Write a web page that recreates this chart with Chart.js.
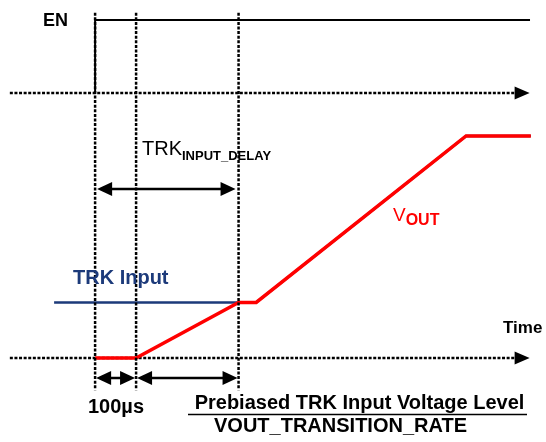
<!DOCTYPE html>
<html>
<head>
<meta charset="utf-8">
<script src="https://cdn.jsdelivr.net/npm/chart.js@4"></script>
<style>
html, body { margin: 0; padding: 0; background: #fff; }
#timing { display: block; }
</style>
</head>
<body>
<canvas id="timing" width="546" height="442"></canvas>
<script>
// time in µs from EN rising; VOUT / TRK as fraction of final level; EN as logic 0/1
const enTime = [0, 0, 1061];
const enLevel = [0, 1, 1];
const trkTime = [-100, 393, 905, 1063];
const trkLevel = [0.25, 0.25, 1, 1];
const voutTime = [0, 100, 350, 393, 905, 1063];
const voutLevel = [0, 0, 0.25, 0.25, 1, 1];
const markerTimes = [0, 100, 350]; // EN rise, 100µs delay, TRK_INPUT_DELAY end
const axisStart = -208, axisEnd = 1060;

const NAVY = "#1c3a7a";
const RED = "#ff0000";
const FONT = "'Liberation Sans', Arial, sans-serif";
const DOTS = [3, 1.6];

function toPoints(xs, ys) {
  return xs.map((t, i) => ({ x: t, y: ys[i] }));
}

function arrowHead(ctx, tipX, tipY, dir, len, half) {
  ctx.beginPath();
  ctx.moveTo(tipX, tipY);
  ctx.lineTo(tipX - dir * len, tipY - half);
  ctx.lineTo(tipX - dir * len, tipY + half);
  ctx.closePath();
  ctx.fill();
}

function doubleArrow(ctx, x0, x1, yy) {
  ctx.save();
  ctx.strokeStyle = "#000";
  ctx.fillStyle = "#000";
  ctx.lineWidth = 2.5;
  ctx.beginPath();
  ctx.moveTo(x0 + 8, yy);
  ctx.lineTo(x1 - 8, yy);
  ctx.stroke();
  arrowHead(ctx, x0, yy, -1, 15, 7);
  arrowHead(ctx, x1, yy, 1, 15, 7);
  ctx.restore();
}

function dashedAxis(ctx, x0, x1, yy) {
  ctx.save();
  ctx.strokeStyle = "#000";
  ctx.fillStyle = "#000";
  ctx.lineWidth = 2.5;
  ctx.setLineDash(DOTS);
  ctx.beginPath();
  ctx.moveTo(x0, yy);
  ctx.lineTo(x1 - 12, yy);
  ctx.stroke();
  ctx.setLineDash([]);
  arrowHead(ctx, x1, yy, 1, 15, 6.5);
  ctx.restore();
}

function subText(ctx, x, yy, main, mainFont, sub, subFont, drop, color) {
  ctx.fillStyle = color;
  ctx.textAlign = "left";
  ctx.font = mainFont;
  ctx.fillText(main, x, yy);
  const w = ctx.measureText(main).width;
  ctx.font = subFont;
  ctx.fillText(sub, x + w, yy + drop);
}

const diagram = {
  id: "diagram",
  beforeDatasetsDraw(chart) {
    const { ctx, scales: { x, y, yEN } } = chart;
    dashedAxis(ctx, x.getPixelForValue(axisStart), x.getPixelForValue(axisEnd), yEN.getPixelForValue(0));
    dashedAxis(ctx, x.getPixelForValue(axisStart), x.getPixelForValue(axisEnd), y.getPixelForValue(0));
  },
  afterDatasetsDraw(chart) {
    const { ctx, scales: { x, y, yEN } } = chart;
    const top = yEN.getPixelForValue(1.1);
    const bottom = y.getPixelForValue(-0.145);

    ctx.save();
    ctx.strokeStyle = "#000";
    ctx.lineWidth = 2.5;
    ctx.setLineDash(DOTS);
    markerTimes.forEach(t => {
      const px = x.getPixelForValue(t);
      ctx.beginPath();
      ctx.moveTo(px, top);
      ctx.lineTo(px, bottom);
      ctx.stroke();
    });
    ctx.restore();

    const m0 = x.getPixelForValue(markerTimes[0]);
    const m1 = x.getPixelForValue(markerTimes[1]);
    const m2 = x.getPixelForValue(markerTimes[2]);
    doubleArrow(ctx, m0 + 2, m2 - 3, 189);
    doubleArrow(ctx, m0 + 1, m1 - 1, 378);
    doubleArrow(ctx, m1 + 1, m2 - 1, 378);

    ctx.save();
    ctx.textBaseline = "alphabetic";
    ctx.fillStyle = "#000";
    ctx.font = "bold 18px " + FONT;
    ctx.fillText("EN", 43, 26);

    subText(ctx, 142, 155, "TRK", "20px " + FONT, "INPUT_DELAY", "bold 13px " + FONT, 5, "#000");

    ctx.fillStyle = NAVY;
    ctx.font = "bold 20px " + FONT;
    ctx.fillText("TRK Input", 73, 284);

    subText(ctx, 393, 221, "V", "19px " + FONT, "OUT", "bold 16px " + FONT, 4, RED);

    ctx.fillStyle = "#000";
    ctx.font = "bold 17px " + FONT;
    ctx.fillText("Time", 503, 333);

    ctx.textAlign = "center";
    ctx.font = "bold 20px " + FONT;
    ctx.fillText("100µs", 116, 413);
    ctx.fillText("Prebiased TRK Input Voltage Level", 359.5, 409);
    ctx.fillText("VOUT_TRANSITION_RATE", 340.5, 432);

    ctx.strokeStyle = "#000";
    ctx.lineWidth = 1.5;
    ctx.beginPath();
    ctx.moveTo(188, 414.5);
    ctx.lineTo(527, 414.5);
    ctx.stroke();
    ctx.restore();
  }
};

new Chart(document.getElementById("timing"), {
  type: "scatter",
  data: {
    datasets: [
      {
        label: "EN",
        data: toPoints(enTime, enLevel),
        yAxisID: "yEN",
        showLine: true,
        borderColor: "#000",
        borderWidth: 2,
        pointRadius: 0,
        order: 2,
      },
      {
        label: "TRK Input",
        data: toPoints(trkTime, trkLevel),
        yAxisID: "y",
        showLine: true,
        borderColor: NAVY,
        borderWidth: 2.5,
        pointRadius: 0,
        order: 1,
      },
      {
        label: "VOUT",
        data: toPoints(voutTime, voutLevel),
        yAxisID: "y",
        showLine: true,
        borderColor: RED,
        borderWidth: 3.5,
        pointRadius: 0,
        order: 0,
      },
    ],
  },
  options: {
    responsive: false,
    animation: false,
    devicePixelRatio: 1,
    layout: { padding: 0 },
    plugins: { legend: { display: false }, tooltip: { enabled: false } },
    scales: {
      x: { type: "linear", min: -232, max: 1100, display: false },
      y: { type: "linear", min: -0.3784, max: 1.6126, display: false },
      yEN: { type: "linear", min: -4.781, max: 1.274, display: false },
    },
  },
  plugins: [diagram],
});
</script>
</body>
</html>
